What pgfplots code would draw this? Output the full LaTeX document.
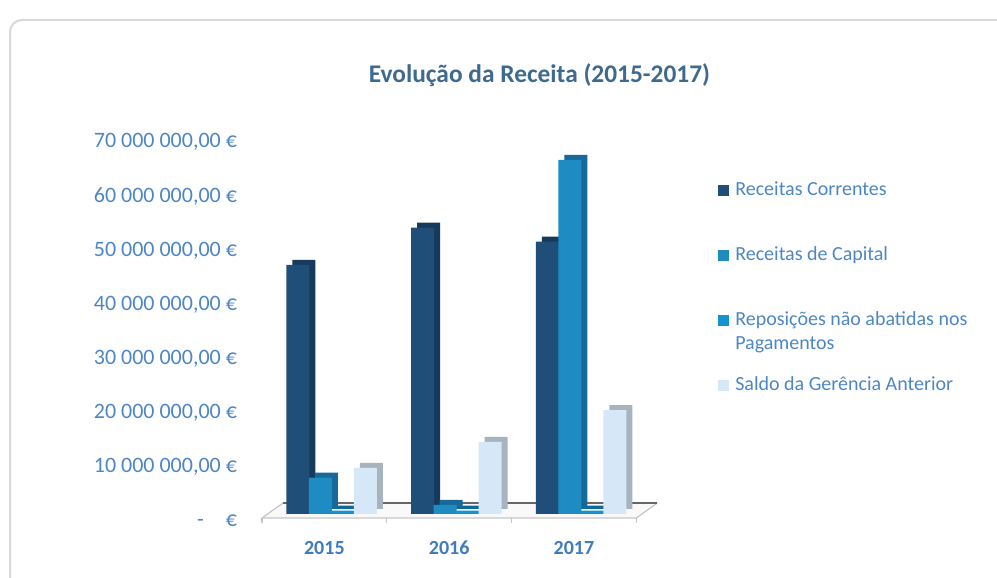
\documentclass[border=0pt]{standalone}
\usepackage{fontspec}
\setmainfont{Carlito}
\usepackage{pgfplots}
\pgfplotsset{compat=1.18}

\definecolor{rcor}{HTML}{1F4E79}
\definecolor{rcorS}{HTML}{163A5C}
\definecolor{rcap}{HTML}{1E8BC3}
\definecolor{rcapS}{HTML}{17699A}
\definecolor{repo}{HTML}{1593D0}
\definecolor{repoS}{HTML}{0F6A9B}
\definecolor{sald}{HTML}{D6E8F8}
\definecolor{saldS}{HTML}{A7B4C0}
\definecolor{titlec}{HTML}{3D6A8E}
\definecolor{tickc}{HTML}{4D86C6}
\definecolor{catc}{HTML}{3E7BC0}

\begin{document}
\begin{tikzpicture}
\useasboundingbox (0pt,0pt) rectangle (498.5pt,289pt);
\draw[gray!30, line width=1pt, rounded corners=6pt] (5pt,-15pt) rectangle (515pt,279pt);
\node[font=\fontsize{12.7}{15}\selectfont\bfseries, text=titlec] at (269.75pt,251.5pt) {Evolução da Receita (2015-2017)};

\begin{axis}[
    at={(131pt,32pt)}, anchor=south west,
    scale only axis, width=196.5pt, height=189.5pt,
    xmin=-0.5, xmax=2.65, ymin=0, ymax=70000000,
    clip=false,
    ybar, bar width=11.5pt,
    axis line style={draw=none}, tick style={draw=none},
    xtick={0,1,2}, xticklabels={2015,2016,2017},
    xticklabel style={font=\fontsize{10}{12}\selectfont\bfseries, text=catc,
        text height=6.5pt, text depth=0pt, yshift=-6pt},
    ytick={0,10000000,20000000,30000000,40000000,50000000,60000000,70000000},
    yticklabels={{-\hspace{1em}€},{10 000 000,00 €},{20 000 000,00 €},{30 000 000,00 €},
                 {40 000 000,00 €},{50 000 000,00 €},{60 000 000,00 €},{70 000 000,00 €}},
    yticklabel style={font=\fontsize{11}{13}\selectfont, text=tickc, xshift=-9pt, yshift=-3.5pt},
    scaled y ticks=false,
    legend style={at={(1.16,0.884)}, anchor=north west, draw=none, fill=none,
        inner sep=0pt, row sep=21.5pt, column sep=3pt,
        font=\fontsize{10}{12}\selectfont, text=tickc,
        cells={anchor=west},
        nodes={inner sep=0pt, text height=8pt, text depth=3pt}},
    legend image code/.code={\fill[#1] (0pt,-2.75pt) rectangle (5.5pt,2.75pt);},
]
% floor
\fill[gray!5] ([yshift=-2pt]axis cs:-0.5,0) -- ([yshift=-2pt]axis cs:2.5,0)
    -- ([xshift=10.5pt,yshift=5.5pt]axis cs:2.5,0) -- ([xshift=10.5pt,yshift=5.5pt]axis cs:-0.5,0) -- cycle;
\draw[gray!45, line width=0.6pt] ([xshift=10.5pt,yshift=5.5pt]axis cs:-0.5,0) -- ([yshift=-2pt]axis cs:-0.5,0)
    -- ([yshift=-2pt]axis cs:2.5,0) -- ([xshift=10.5pt,yshift=5.5pt]axis cs:2.5,0);
\draw[gray!80!black, line width=0.8pt] ([xshift=10.5pt,yshift=5.5pt]axis cs:-0.5,0) -- ([xshift=10.5pt,yshift=5.5pt]axis cs:2.5,0);
\pgfplotsinvokeforeach{-0.5,0.5,1.5,2.5}{
    \draw[gray!45, line width=0.6pt] ([yshift=-2pt]axis cs:#1,0) -- ([yshift=-4.5pt]axis cs:#1,0);
}

% side/top faces (depth)
\addplot[forget plot, fill=rcorS, draw=none, bar shift=-13.25pt, xshift=3pt, yshift=2.5pt]
    coordinates {(0,46000000) (1,52900000) (2,50300000)};
\addplot[forget plot, fill=rcapS, draw=none, bar shift=-2pt, xshift=3pt, yshift=2.5pt]
    coordinates {(0,6700000) (1,1700000) (2,65400000)};
\addplot[forget plot, fill=repoS, draw=none, bar shift=9.25pt, xshift=3pt, yshift=2.5pt]
    coordinates {(0,600000) (1,600000) (2,600000)};
\addplot[forget plot, fill=saldS, draw=none, bar shift=20.5pt, xshift=3pt, yshift=2.5pt]
    coordinates {(0,8500000) (1,13300000) (2,19200000)};

% front faces
\addplot[fill=rcor, draw=none, bar shift=-13.25pt]
    coordinates {(0,46000000) (1,52900000) (2,50300000)};
\addlegendentry{Receitas Correntes}
\addplot[fill=rcap, draw=none, bar shift=-2pt]
    coordinates {(0,6700000) (1,1700000) (2,65400000)};
\addlegendentry{Receitas de Capital}
\addplot[fill=repo, draw=none, bar shift=9.25pt]
    coordinates {(0,600000) (1,600000) (2,600000)};
\addlegendentry{\begin{tabular}[t]{@{}l@{}}Reposições não abatidas nos\\Pagamentos\end{tabular}}
\addplot[fill=sald, draw=none, bar shift=20.5pt]
    coordinates {(0,8500000) (1,13300000) (2,19200000)};
\addlegendentry{Saldo da Gerência Anterior}
\end{axis}
\end{tikzpicture}
\end{document}
